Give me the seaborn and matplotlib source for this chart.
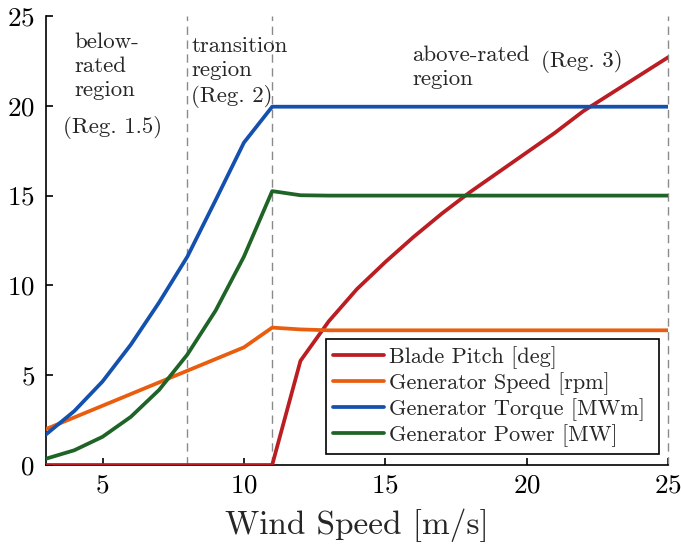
import numpy as np
import pandas as pd
import matplotlib
matplotlib.use("Agg")
import matplotlib.pyplot as plt
import seaborn as sns

wind = list(range(3, 26))
blade_pitch = [0, 0, 0, 0, 0, 0, 0, 0, 0, 5.8, 8.0, 9.8, 11.3, 12.7, 14.0, 15.2,
               16.3, 17.4, 18.5, 19.7, 20.7, 21.7, 22.7]
gen_speed = [2.0, 2.65, 3.3, 3.95, 4.6, 5.25, 5.9, 6.55, 7.65, 7.55, 7.5, 7.5, 7.5,
             7.5, 7.5, 7.5, 7.5, 7.5, 7.5, 7.5, 7.5, 7.5, 7.5]
gen_torque = [1.7, 3.0, 4.65, 6.7, 9.05, 11.6, 14.75, 17.95, 19.95, 19.95, 19.95,
              19.95, 19.95, 19.95, 19.95, 19.95, 19.95, 19.95, 19.95, 19.95, 19.95,
              19.95, 19.95]
gen_power = [0.35, 0.82, 1.57, 2.68, 4.18, 6.15, 8.6, 11.6, 15.25, 15.02, 15.0, 15.0,
             15.0, 15.0, 15.0, 15.0, 15.0, 15.0, 15.0, 15.0, 15.0, 15.0, 15.0]

labels = ["Blade Pitch [deg]", "Generator Speed [rpm]",
          "Generator Torque [MWm]", "Generator Power [MW]"]
colors = ["#BA1E23", "#E95E0E", "#1450AE", "#1F6427"]
region_bounds = [8, 11, 25]

df = pd.DataFrame({
    "Wind Speed": wind * 4,
    "value": blade_pitch + gen_speed + gen_torque + gen_power,
    "series": sum([[l] * len(wind) for l in labels], []),
})

sns.set_theme(style="ticks")
plt.rcParams["font.family"] = ["cmr10", "DejaVu Serif"]
plt.rcParams["mathtext.fontset"] = "cm"
plt.rcParams["axes.formatter.use_mathtext"] = True

fig = plt.figure(figsize=(6.81, 5.52), dpi=100)
ax = fig.add_axes([0.0675, 0.1576, 0.9135, 0.8134])

for xb in region_bounds:
    ax.axvline(xb, color="#8a8a8a", linestyle=(0, (6, 4)), linewidth=1.0, zorder=1,
               clip_on=False)

sns.lineplot(data=df, x="Wind Speed", y="value", hue="series", palette=colors,
             linewidth=2.7, ax=ax, zorder=3)

ax.set_xlim(3, 25)
ax.set_ylim(0, 25)
ax.set_xticks([5, 10, 15, 20, 25])
ax.set_yticks([0, 5, 10, 15, 20, 25])
ax.tick_params(direction="in", length=5, width=1.2, labelsize=19.5, colors="black")
ax.tick_params(axis="x", pad=6)
ax.tick_params(axis="y", pad=8)
ax.set_xlabel("Wind Speed [m/s]", fontsize=24, labelpad=8)
ax.set_ylabel("")
sns.despine(ax=ax)
for s in ["left", "bottom"]:
    ax.spines[s].set_linewidth(1.2)
    ax.spines[s].set_color("black")

tfs = 16.5
ax.text(4.0, 24.1, "below-\nrated\nregion", fontsize=tfs, va="top", ha="left",
        linespacing=1.3)
ax.text(3.62, 18.8, "(Reg. 1.5)", fontsize=tfs, va="center", ha="left")
ax.text(8.14, 23.85, "transition\nregion\n(Reg. 2)", fontsize=tfs, va="top",
        ha="left", linespacing=1.3)
ax.text(15.95, 23.35, "above-rated\nregion", fontsize=tfs, va="top", ha="left",
        linespacing=1.3)
ax.text(20.52, 22.45, "(Reg. 3)", fontsize=tfs, va="center", ha="left")

handles, _ = ax.get_legend_handles_labels()
leg = ax.legend(handles, [l + " " for l in labels], loc="lower right",
                bbox_to_anchor=(0.986, 0.025), fontsize=16,
                frameon=True, fancybox=False, handlelength=2.3, borderpad=0.3,
                labelspacing=0.15, handletextpad=0.25, borderaxespad=0)
leg.get_frame().set_edgecolor("black")
leg.get_frame().set_linewidth(1.2)
leg.get_frame().set_alpha(1)

fig.savefig("out.png", dpi=100)
